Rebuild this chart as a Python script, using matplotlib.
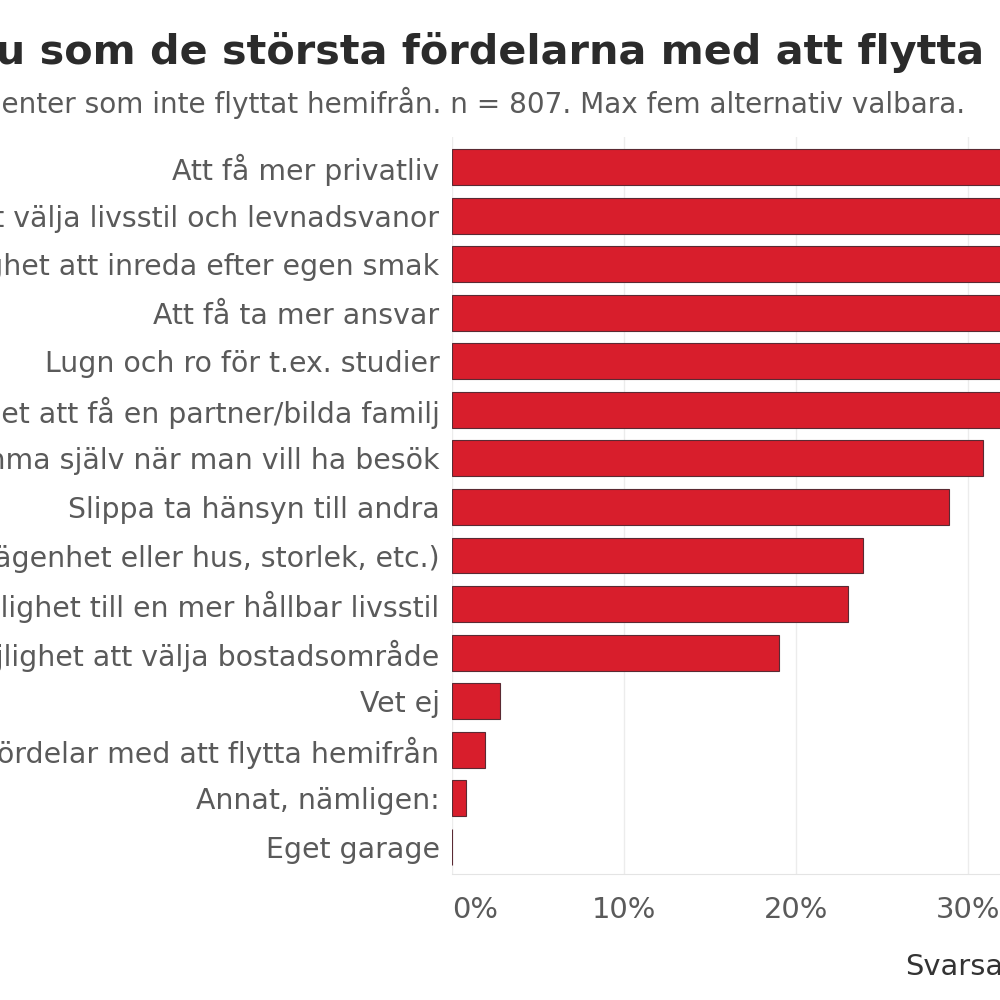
import numpy as np
import matplotlib
matplotlib.use("Agg")
from matplotlib import pyplot as plt

plt.rcParams['font.family'] = ['DejaVu Sans']

# kategorier (uppifrån och ned) och andel svarande i procent
kategorier = [
    "Att få mer privatliv",
    "Möjlighet att välja livsstil och levnadsvanor",
    "Möjlighet att inreda efter egen smak",
    "Att få ta mer ansvar",
    "Lugn och ro för t.ex. studier",
    "Möjlighet att få en partner/bilda familj",
    "Att kunna bestämma själv när man vill ha besök",
    "Slippa ta hänsyn till andra",
    "Möjlighet att välja boende (lägenhet eller hus, storlek, etc.)",
    "Möjlighet till en mer hållbar livsstil",
    "Möjlighet att välja bostadsområde",
    "Vet ej",
    "Inga fördelar med att flytta hemifrån",
    "Annat, nämligen:",
    "Eget garage",
]
andel = [52, 47, 44, 40, 37, 34, 30.9, 28.9, 23.9, 23.0, 19.0, 2.8, 1.9, 0.8, 0.0]
xticks = [0, 10, 20, 30, 40, 50, 60]
xticklabels = ["0%", "10%", "20%", "30%", "40%", "50%", "60%"]

titel = "Vad ser du som de största fördelarna med att flytta hemifrån?"
undertitel = "Bas: respondenter som inte flyttat hemifrån. n = 807. Max fem alternativ valbara."

red = "#d81e2c"
grey = "#5a5a5a"

fig = plt.figure(figsize=(10, 10), dpi=100)
r = fig.canvas.get_renderer()

def width(s, size, **kw):
    t = fig.text(0, 0, s, fontsize=size, **kw)
    w = t.get_window_extent(r).width
    t.remove()
    return w

# fontstorlekar anpassade efter textbredden i bilden
lab_fs = 10 * 269 / width("Att få mer privatliv", 10)
tick_fs = 10 * 64 / width("30%", 10)
tit_fs = 10 * 990 / width("u som de största fördelarna med att flytta", 10, fontweight='bold')
sub_fs = 10 * 966 / width("enter som inte flyttat hemifrån. n = 807. Max fem alternativ valbara.", 10)

xmax = 60.
px_per = 17.2
W = xmax * px_per / 1000.
ax = fig.add_axes([0.452, 0.126, W, 0.737])

y = np.arange(len(kategorier))
ax.barh(y, andel, height=0.74, color=red, edgecolor="#5a2a33", linewidth=0.8, zorder=3)
ax.set_xlim(0, xmax)
ax.set_ylim(14.56, -0.62)

ax.set_yticks(y)
ax.set_yticklabels(kategorier, fontsize=lab_fs, color=grey)
ax.tick_params(axis='y', length=0, pad=9)
ax.set_xticks(xticks)
ax.set_xticklabels(xticklabels, fontsize=tick_fs, color=grey)
ax.tick_params(axis='x', length=0, pad=16)
ax.get_xticklabels()[0].set_ha('left')

ax.grid(axis='x', color="#ececec", linewidth=1, zorder=0)
for s in ['top', 'right', 'left']:
    ax.spines[s].set_visible(False)
ax.spines['bottom'].set_color("#e4e4e4")

# titeln är beskuren till vänster som i originalet
pre = width("Vad ser d", tit_fs, fontweight='bold')
fig.text(-(pre + 4) / 1000., 0.95, titel, fontsize=tit_fs, fontweight='bold',
         color="#2b2b2b", ha='left', va='center')
pre = width("Bas: respond", sub_fs)
fig.text(-(pre - 1) / 1000., 0.897, undertitel, fontsize=sub_fs, color=grey,
         ha='left', va='center')
fig.text(0.905, 0.033, "Svarsandel", fontsize=lab_fs * 1.02, color="#333333",
         ha='left', va='center')

fig.savefig("out.png", dpi=100)
